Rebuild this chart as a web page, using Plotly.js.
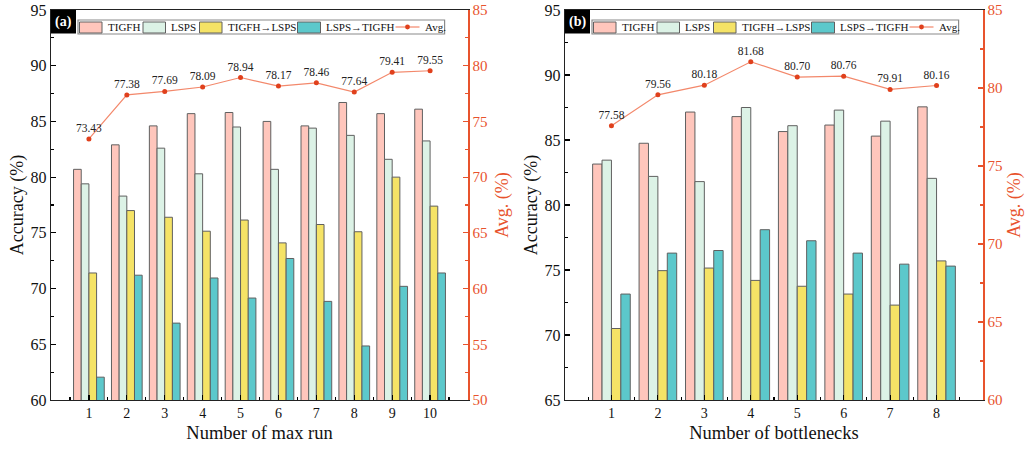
<!DOCTYPE html>
<html>
<head>
<meta charset="utf-8">
<script src="https://cdn.plot.ly/plotly-3.0.1.min.js"></script>
<style>html,body{margin:0;padding:0;background:#fff;}#chart{width:1027px;height:450px;}</style>
</head>
<body>
<div id="chart"></div>
<script>
// ---------- data ----------
const seriesNames = ['TIGFH', 'LSPS', 'TIGFH\u2192LSPS', 'LSPS\u2192TIGFH', 'Avg.'];

const maxRun = [1, 2, 3, 4, 5, 6, 7, 8, 9, 10];
const tigfhA = [80.7, 82.9, 84.6, 85.7, 85.8, 85.0, 84.6, 86.7, 85.7, 86.1];
const lspsA  = [79.4, 78.3, 82.6, 80.3, 84.5, 80.7, 84.4, 83.75, 81.6, 83.25];
const t2lA   = [71.4, 77.0, 76.4, 75.15, 76.15, 74.1, 75.75, 75.1, 80.0, 77.4];
const l2tA   = [62.05, 71.2, 66.9, 70.95, 69.15, 72.7, 68.85, 64.85, 70.2, 71.4];
const avgA   = [73.43, 77.38, 77.69, 78.09, 78.94, 78.17, 78.46, 77.64, 79.41, 79.55];

const bottlenecks = [1, 2, 3, 4, 5, 6, 7, 8];
const tigfhB = [83.15, 84.75, 87.15, 86.8, 85.65, 86.15, 85.3, 87.55];
const lspsB  = [83.45, 82.2, 81.8, 87.5, 86.1, 87.3, 86.45, 82.05];
const t2lB   = [70.5, 74.95, 75.15, 74.2, 73.75, 73.15, 72.3, 75.7];
const l2tB   = [73.15, 76.3, 76.5, 78.1, 77.25, 76.3, 75.45, 75.3];
const avgB   = [77.58, 79.56, 80.18, 81.68, 80.70, 80.76, 79.91, 80.16];

// ---------- styles ----------
const W = 1027, H = 450;
const FONT = 'Liberation Serif, Times New Roman, serif';
const barColors = ['#FFC6BC', '#DCF2E6', '#F5E366', '#5CC8CB'];
const barLine = '#606060';
const avgLine = '#F3886B';
const avgMarker = '#E0401C';
const orange = '#E8532D';

const px = v => v / W;
const py = v => 1 - v / H;

// panel geometry (pixels)
const PA = {l: 51, r: 468};
const PB = {l: 565, r: 983};
const plotTop = 10, plotBottom = 400;

function barTraces(xs, ys, xa, ya) {
  return ys.map((vals, i) => ({
    type: 'bar', x: xs, y: vals, name: seriesNames[i], xaxis: xa, yaxis: ya,
    marker: {color: barColors[i], line: {color: barLine, width: 1}},
    showlegend: false, hoverinfo: 'x+y+name'
  }));
}
function avgTrace(xs, ys, xa, ya) {
  return {
    type: 'scatter', mode: 'lines+markers+text', x: xs, y: ys, name: seriesNames[4],
    xaxis: xa, yaxis: ya,
    text: ys.map(v => v.toFixed(2)), textposition: 'top center',
    textfont: {family: FONT, size: 11.5, color: '#222'},
    line: {color: avgLine, width: 1.2},
    marker: {color: avgMarker, size: 5},
    cliponaxis: false, showlegend: false
  };
}

const data = [
  ...barTraces(maxRun, [tigfhA, lspsA, t2lA, l2tA], 'x', 'y'),
  avgTrace(maxRun, avgA, 'x', 'y2'),
  ...barTraces(bottlenecks, [tigfhB, lspsB, t2lB, l2tB], 'x2', 'y3'),
  avgTrace(bottlenecks, avgB, 'x2', 'y4')
];

const ydom = [py(plotBottom), py(plotTop)];

function xAxis(dom, cats, title) {
  return {
    domain: dom, range: [0, cats.length + 1], tickmode: 'array', tickvals: cats,
    ticks: 'inside', ticklen: 5, tickwidth: 1.2, tickcolor: '#000',
    minor: {ticks: 'inside', ticklen: 3, tick0: 0.5, dtick: 1, tickcolor: '#000', showgrid: false},
    showline: true, linecolor: '#222', linewidth: 1.3, mirror: true,
    showgrid: false, zeroline: false, automargin: false,
    tickfont: {family: FONT, size: 14, color: '#111'},
    title: {text: title, font: {family: FONT, size: 18.5, color: '#111'}, standoff: 6}
  };
}
function yLeft(range, xa) {
  return {
    domain: ydom, range: range, dtick: 5, anchor: xa,
    ticks: 'inside', ticklen: 5, tickwidth: 1.2, tickcolor: '#000',
    minor: {ticks: 'inside', ticklen: 3, dtick: 2.5, tickcolor: '#000', showgrid: false},
    showline: true, linecolor: '#222', linewidth: 1.3,
    showgrid: false, zeroline: false, automargin: false,
    tickfont: {family: FONT, size: 16, color: '#111'},
    title: {text: 'Accuracy (%)', font: {family: FONT, size: 18, color: '#111'}, standoff: 2}
  };
}
function yRight(range, over, xa, standoff) {
  return {
    overlaying: over, side: 'right', anchor: xa, range: range, dtick: 5,
    ticks: 'inside', ticklen: 5, tickwidth: 1.2, tickcolor: orange,
    minor: {ticks: 'inside', ticklen: 3, dtick: 2.5, tickcolor: orange, showgrid: false},
    showline: true, linecolor: orange, linewidth: 1.5,
    showgrid: false, zeroline: false, automargin: false,
    tickfont: {family: FONT, size: 15, color: orange},
    title: {text: 'Avg. (%)', font: {family: FONT, size: 18, color: orange}, standoff: standoff}
  };
}

// ---------- custom legend & panel badges (paper coords) ----------
const shapes = [];
const annotations = [];
const legendItems = [
  {kind: 'bar', i: 0, r0: 1.5, r1: 24, t: 27.5},
  {kind: 'bar', i: 1, r0: 65, r1: 87.5, t: 90.5},
  {kind: 'bar', i: 2, r0: 121.5, r1: 144, t: 148},
  {kind: 'bar', i: 3, r0: 219.5, r1: 242.5, t: 246},
  {kind: 'line', i: 4, r0: 317.5, r1: 341.5, t: 344.5}
];
function addPanelDecor(panel, label) {
  const bx = panel.l + 27, bw = 366.6, by0 = 20, by1 = 34, cy = 27;
  shapes.push({type: 'rect', xref: 'paper', yref: 'paper', x0: px(bx), x1: px(bx + bw), y0: py(by1), y1: py(by0),
    line: {color: '#8a8a8a', width: 1.2}, fillcolor: '#fff', layer: 'above'});
  legendItems.forEach(it => {
    if (it.kind === 'bar') {
      shapes.push({type: 'rect', xref: 'paper', yref: 'paper', x0: px(bx + it.r0), x1: px(bx + it.r1),
        y0: py(by1 - 1), y1: py(by0 + 2), fillcolor: barColors[it.i], line: {color: barLine, width: 1}, layer: 'above'});
    } else {
      shapes.push({type: 'line', xref: 'paper', yref: 'paper', x0: px(bx + it.r0), x1: px(bx + it.r1),
        y0: py(cy), y1: py(cy), line: {color: avgLine, width: 1.2}, layer: 'above'});
      const cx = bx + (it.r0 + it.r1) / 2;
      shapes.push({type: 'circle', xref: 'paper', yref: 'paper', x0: px(cx - 2.4), x1: px(cx + 2.4),
        y0: py(cy + 2.4), y1: py(cy - 2.4), fillcolor: avgMarker, line: {color: avgMarker, width: 0}, layer: 'above'});
    }
    annotations.push({xref: 'paper', yref: 'paper', x: px(bx + it.t), y: py(cy), xanchor: 'left', yanchor: 'middle',
      text: seriesNames[it.i], showarrow: false, font: {family: FONT, size: 11, color: '#111'}});
  });
  // black badge
  shapes.push({type: 'rect', xref: 'paper', yref: 'paper', x0: px(panel.l), x1: px(panel.l + 25),
    y0: py(33.5), y1: py(plotTop), fillcolor: '#000', line: {width: 0}, layer: 'above'});
  annotations.push({xref: 'paper', yref: 'paper', x: px(panel.l + 12.5), y: py(21.5), xanchor: 'center', yanchor: 'middle',
    text: '<b>' + label + '</b>', showarrow: false, font: {family: FONT, size: 14, color: '#fff'}});
}
addPanelDecor(PA, '(a)');
addPanelDecor(PB, '(b)');

const layout = {
  width: W, height: H,
  margin: {l: 0, r: 0, t: 0, b: 0},
  paper_bgcolor: '#fff', plot_bgcolor: '#fff',
  font: {family: FONT, color: '#111'},
  barmode: 'group', bargap: 0.19, bargroupgap: 0,
  showlegend: false,
  xaxis: Object.assign(xAxis([px(PA.l), px(PA.r)], maxRun, 'Number of max run'), {anchor: 'y'}),
  yaxis: yLeft([60, 95], 'x'),
  yaxis2: yRight([50, 85], 'y', 'x', 9),
  xaxis2: Object.assign(xAxis([px(PB.l), px(PB.r)], bottlenecks, 'Number of bottlenecks'), {anchor: 'y3'}),
  yaxis3: yLeft([65, 95], 'x2'),
  yaxis4: yRight([60, 85], 'y3', 'x2', 6),
  shapes: shapes,
  annotations: annotations
};

Plotly.newPlot('chart', data, layout, {displayModeBar: false, staticPlot: true});
</script>
</body>
</html>
